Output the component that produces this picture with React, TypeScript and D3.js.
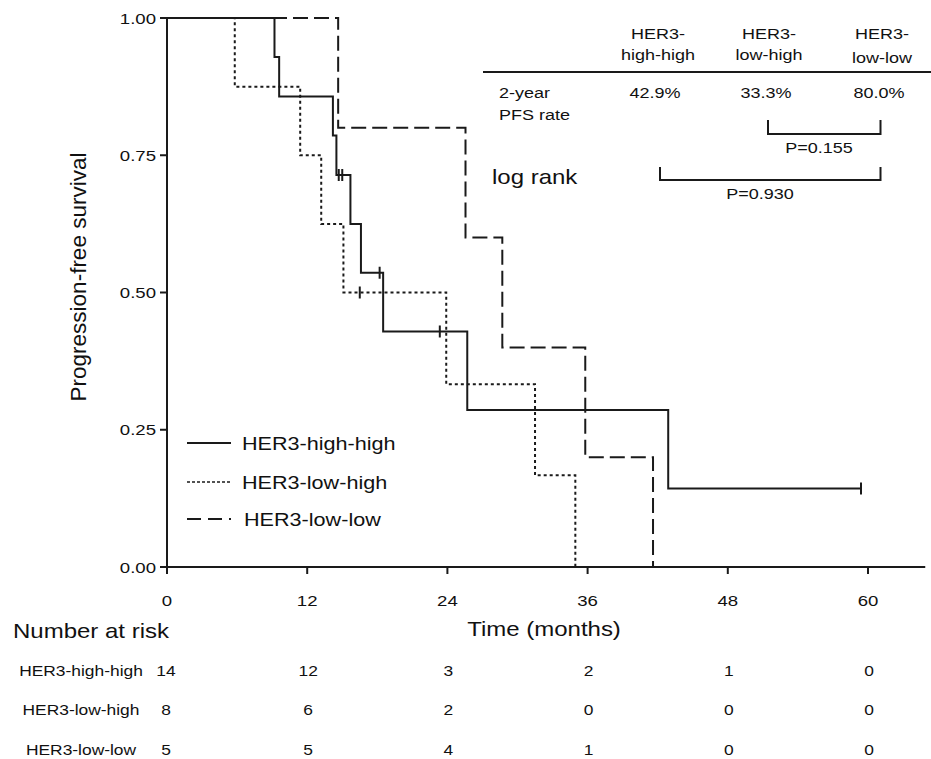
import React from "react";
import * as d3 from "d3";

// survival steps (time in months, survival)
const highHighTimes = [0, 9.2, 9.6, 14.2, 14.5, 15.7, 16.6, 18.5, 25.7, 42.9, 59.4];
const highHighSurv = [1, 0.929, 0.857, 0.786, 0.714, 0.625, 0.536, 0.429, 0.286, 0.143, 0.143];
const highHighCensorT = [14.7, 15.0, 18.2, 23.35, 59.4];
const highHighCensorS = [0.714, 0.714, 0.536, 0.429, 0.143];

const lowHighTimes = [0, 5.8, 11.4, 13.2, 15.1, 23.9, 31.5, 34.95];
const lowHighSurv = [1, 0.875, 0.75, 0.625, 0.5, 0.333, 0.167, 0];
const lowHighCensorT = [16.5];
const lowHighCensorS = [0.5];

const lowLowTimes = [0, 14.65, 25.55, 28.7, 35.8, 41.6];
const lowLowSurv = [1, 0.8, 0.6, 0.4, 0.2, 0];

const groupNames = ["HER3-high-high", "HER3-low-high", "HER3-low-low"];
const riskTimes = [0, 12, 24, 36, 48, 60];
const riskHighHigh = [14, 12, 3, 2, 1, 0];
const riskLowHigh = [8, 6, 2, 0, 0, 0];
const riskLowLow = [5, 5, 4, 1, 0, 0];

const yTicks = [0, 0.25, 0.5, 0.75, 1];
const xTicks = [0, 12, 24, 36, 48, 60];

const pfsRates = ["42.9%", "33.3%", "80.0%"];

const FONT = "Liberation Sans, Arial, sans-serif";
const SX = 1.2; // text in the picture is stretched wide
const INK = "#1a1a1a";

function T({ x, y, size, anchor = "start", children }: any) {
  return (
    <text
      transform={`translate(${x},${y}) scale(${SX},1)`}
      fontSize={size}
      textAnchor={anchor}
      fontFamily={FONT}
      fill="#111"
    >
      {children}
    </text>
  );
}

export default function App() {
  const x = d3.scaleLinear().domain([0, 60]).range([167, 868]);
  const y = d3.scaleLinear().domain([0, 1]).range([567, 18]);

  const line = d3
    .line<[number, number]>()
    .x((d) => x(d[0]))
    .y((d) => y(d[1]))
    .curve(d3.curveStepAfter);

  const zip = (a: number[], b: number[]) => a.map((v, i) => [v, b[i]] as [number, number]);

  const curves = [
    { pts: zip(highHighTimes, highHighSurv), dash: null },
    { pts: zip(lowHighTimes, lowHighSurv), dash: "3,3" },
    { pts: zip(lowLowTimes, lowLowSurv), dash: "15,6" },
  ];

  const censors = [
    ...zip(highHighCensorT, highHighCensorS),
    ...zip(lowHighCensorT, lowHighCensorS),
  ];

  const risks = [riskHighHigh, riskLowHigh, riskLowLow];
  const riskY = [676, 715, 755];
  const legendY = [443, 482, 519];
  const legendDash = [null, "3,2", "14,7"];

  return (
    <svg
      width={931}
      height={759}
      style={{ position: "absolute", left: 0, top: 0, background: "#fff" }}
    >
      {/* axes */}
      <line x1={167} x2={167} y1={y(1)} y2={y(0)} stroke={INK} strokeWidth={2} />
      <line x1={167} x2={x(64.9)} y1={y(0)} y2={y(0)} stroke={INK} strokeWidth={2} />
      {yTicks.map((t) => (
        <g key={t}>
          <line x1={160} x2={167} y1={y(t)} y2={y(t)} stroke={INK} strokeWidth={2} />
          <T x={156} y={y(t) + 5.5} size={15.5} anchor="end">
            {d3.format(".2f")(t)}
          </T>
        </g>
      ))}
      {xTicks.map((t) => (
        <g key={t}>
          <line x1={x(t)} x2={x(t)} y1={y(0)} y2={y(0) + 7} stroke={INK} strokeWidth={2} />
          <T x={x(t)} y={606} size={15.5} anchor="middle">
            {t}
          </T>
        </g>
      ))}
      <text
        transform={`translate(86,277) rotate(-90)`}
        fontSize={22.5}
        textAnchor="middle"
        fontFamily={FONT}
        fill="#111"
      >
        Progression-free survival
      </text>

      {/* curves */}
      {curves.map((c, i) => (
        <path
          key={i}
          d={line(c.pts) || ""}
          fill="none"
          stroke={INK}
          strokeWidth={2}
          strokeDasharray={c.dash || undefined}
        />
      ))}
      {censors.map((c, i) => (
        <line
          key={i}
          x1={x(c[0])}
          x2={x(c[0])}
          y1={y(c[1]) - 6}
          y2={y(c[1]) + 6}
          stroke={INK}
          strokeWidth={2}
        />
      ))}

      {/* legend */}
      {groupNames.map((g, i) => (
        <g key={g}>
          <line
            x1={187}
            x2={231}
            y1={legendY[i]}
            y2={legendY[i]}
            stroke={INK}
            strokeWidth={i === 1 ? 1.5 : 2}
            strokeDasharray={legendDash[i] || undefined}
          />
          <T x={i === 2 ? 244 : 242} y={legendY[i] + 6.5} size={18}>
            {g}
          </T>
        </g>
      ))}

      {/* PFS table */}
      {["high-high", "low-high", "low-low"].map((s, i) => {
        const cx = [658, 769, 882][i];
        return (
          <g key={s}>
            <T x={cx} y={39} size={15} anchor="middle">HER3-</T>
            <T x={cx} y={i === 2 ? 63 : 60} size={15} anchor="middle">{s}</T>
            <T x={cx - 3} y={98} size={15} anchor="middle">{pfsRates[i]}</T>
          </g>
        );
      })}
      <line x1={483} x2={931} y1={72} y2={72} stroke={INK} strokeWidth={2} />
      <T x={499} y={98} size={15}>2-year</T>
      <T x={499} y={120} size={15}>PFS rate</T>
      <path d="M768,120V134H880.5V120" fill="none" stroke={INK} strokeWidth={2} />
      <T x={819} y={153} size={15} anchor="middle">P=0.155</T>
      <path d="M660,167V180H880.5V167" fill="none" stroke={INK} strokeWidth={2} />
      <T x={760} y={199} size={15} anchor="middle">P=0.930</T>
      <T x={492} y={184} size={20}>log rank</T>

      {/* number at risk */}
      <T x={544} y={636} size={20} anchor="middle">Time (months)</T>
      <T x={13} y={638} size={20}>Number at risk</T>
      {groupNames.map((g, i) => (
        <g key={g}>
          <T x={81} y={riskY[i]} size={14.5} anchor="middle">{g}</T>
          {risks[i].map((n, j) => (
            <T key={j} x={x(riskTimes[j]) + (j === 0 ? -1 : 1)} y={riskY[i]} size={14.5} anchor="middle">
              {n}
            </T>
          ))}
        </g>
      ))}
    </svg>
  );
}
